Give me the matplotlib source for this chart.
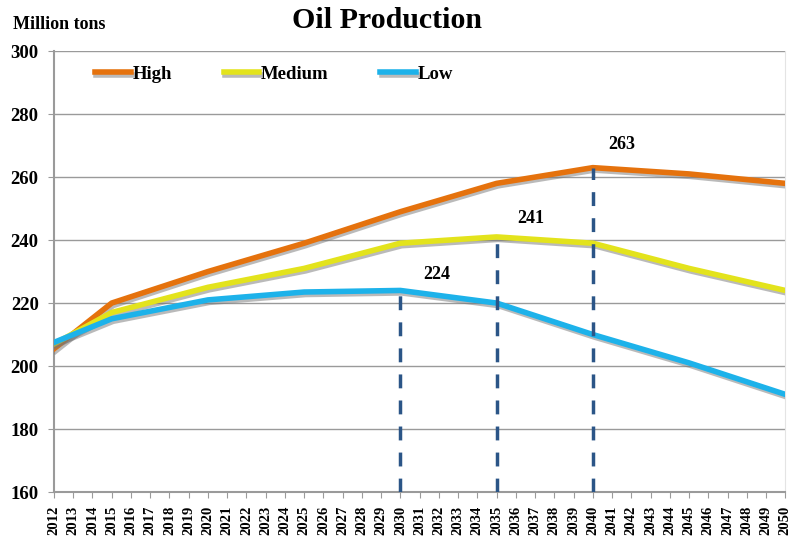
import matplotlib.pyplot as plt
import matplotlib.patheffects as pe

### DATA ###
years = list(range(2012, 2051))
key_years = [2012, 2015, 2020, 2025, 2030, 2035, 2040, 2045, 2050]
high = [205.5, 220, 230, 239, 249, 258, 263, 261, 258]
medium = [207, 217, 225, 231, 239, 241, 239, 231, 224]
low = [207.5, 215, 221, 223.5, 224, 220, 210, 201, 191]
peak_years = [2030, 2035, 2040]
peak_vals = [224, 241, 263]
peak_labels = ['224', '241', '263']

serif = 'Liberation Serif'
plt.rcParams['font.family'] = [serif, 'DejaVu Serif']

fig = plt.figure(figsize=(7.94, 5.38), dpi=100)
ax = fig.add_axes([0.068, 0.0855, 0.921, 0.8195])

shadow = [pe.SimpleLineShadow(offset=(1, -1.8), shadow_color='#777777', alpha=0.5), pe.Normal()]
ax.plot(key_years, high, color='#e5720d', lw=4, label='High', path_effects=shadow, zorder=4)
ax.plot(key_years, medium, color='#e3e31c', lw=4, label='Medium', path_effects=shadow, zorder=4)
ax.plot(key_years, low, color='#1db2ea', lw=4, label='Low', path_effects=shadow, zorder=4)

# dashed markers down to axis, label offsets (years, tons)
offs = [(1.2, 5.2), (1.05, 5.8), (0.8, 7.5)]
for yr, v, t, (dx, dy) in zip(peak_years, peak_vals, peak_labels, offs):
	ax.vlines(yr, 160, v, colors='#2b5587', linestyles=(0, (4, 3.5)), lw=2.5, zorder=5)
	ax.text(yr + dx, v + dy, t, fontsize=13, fontweight='bold', ha='left', va='center')

ax.set_xlim(2012, 2050)
ax.set_ylim(160, 300)
ax.set_yticks(range(160, 301, 20))
ax.set_xticks(years)
ax.set_xticklabels([str(y) for y in years], rotation=90, fontsize=10.5, fontweight='bold', va='top')
for lab in ax.get_yticklabels():
	lab.set_fontweight('bold')
	lab.set_fontsize(13.5)
ax.grid(axis='y', color='#9a9a9a', lw=1)
ax.set_axisbelow(True)
ax.spines['top'].set_visible(False)
ax.spines['right'].set_color('#e4e4e4')
ax.spines['left'].set_color('#9a9a9a')
ax.spines['bottom'].set_color('#9a9a9a')
ax.spines['left'].set_linewidth(1.5)
ax.spines['bottom'].set_linewidth(1.5)
ax.tick_params(axis='y', color='#9a9a9a', length=4, pad=7)
ax.tick_params(axis='x', color='#9a9a9a', length=4, pad=6)

leg = ax.legend(loc='upper left', ncol=3, frameon=False, bbox_to_anchor=(0.033, 1.005),
	handlelength=1.9, handletextpad=0.1, columnspacing=2.75,
	prop={'family': serif, 'weight': 'bold', 'size': 13.5})

fig.text(0.488, 0.962, 'Oil Production', ha='center', va='center', fontsize=21.5, fontweight='bold')
fig.text(0.016, 0.955, 'Million tons', ha='left', va='center', fontsize=13, fontweight='bold')

fig.savefig('out.png', dpi=100)
